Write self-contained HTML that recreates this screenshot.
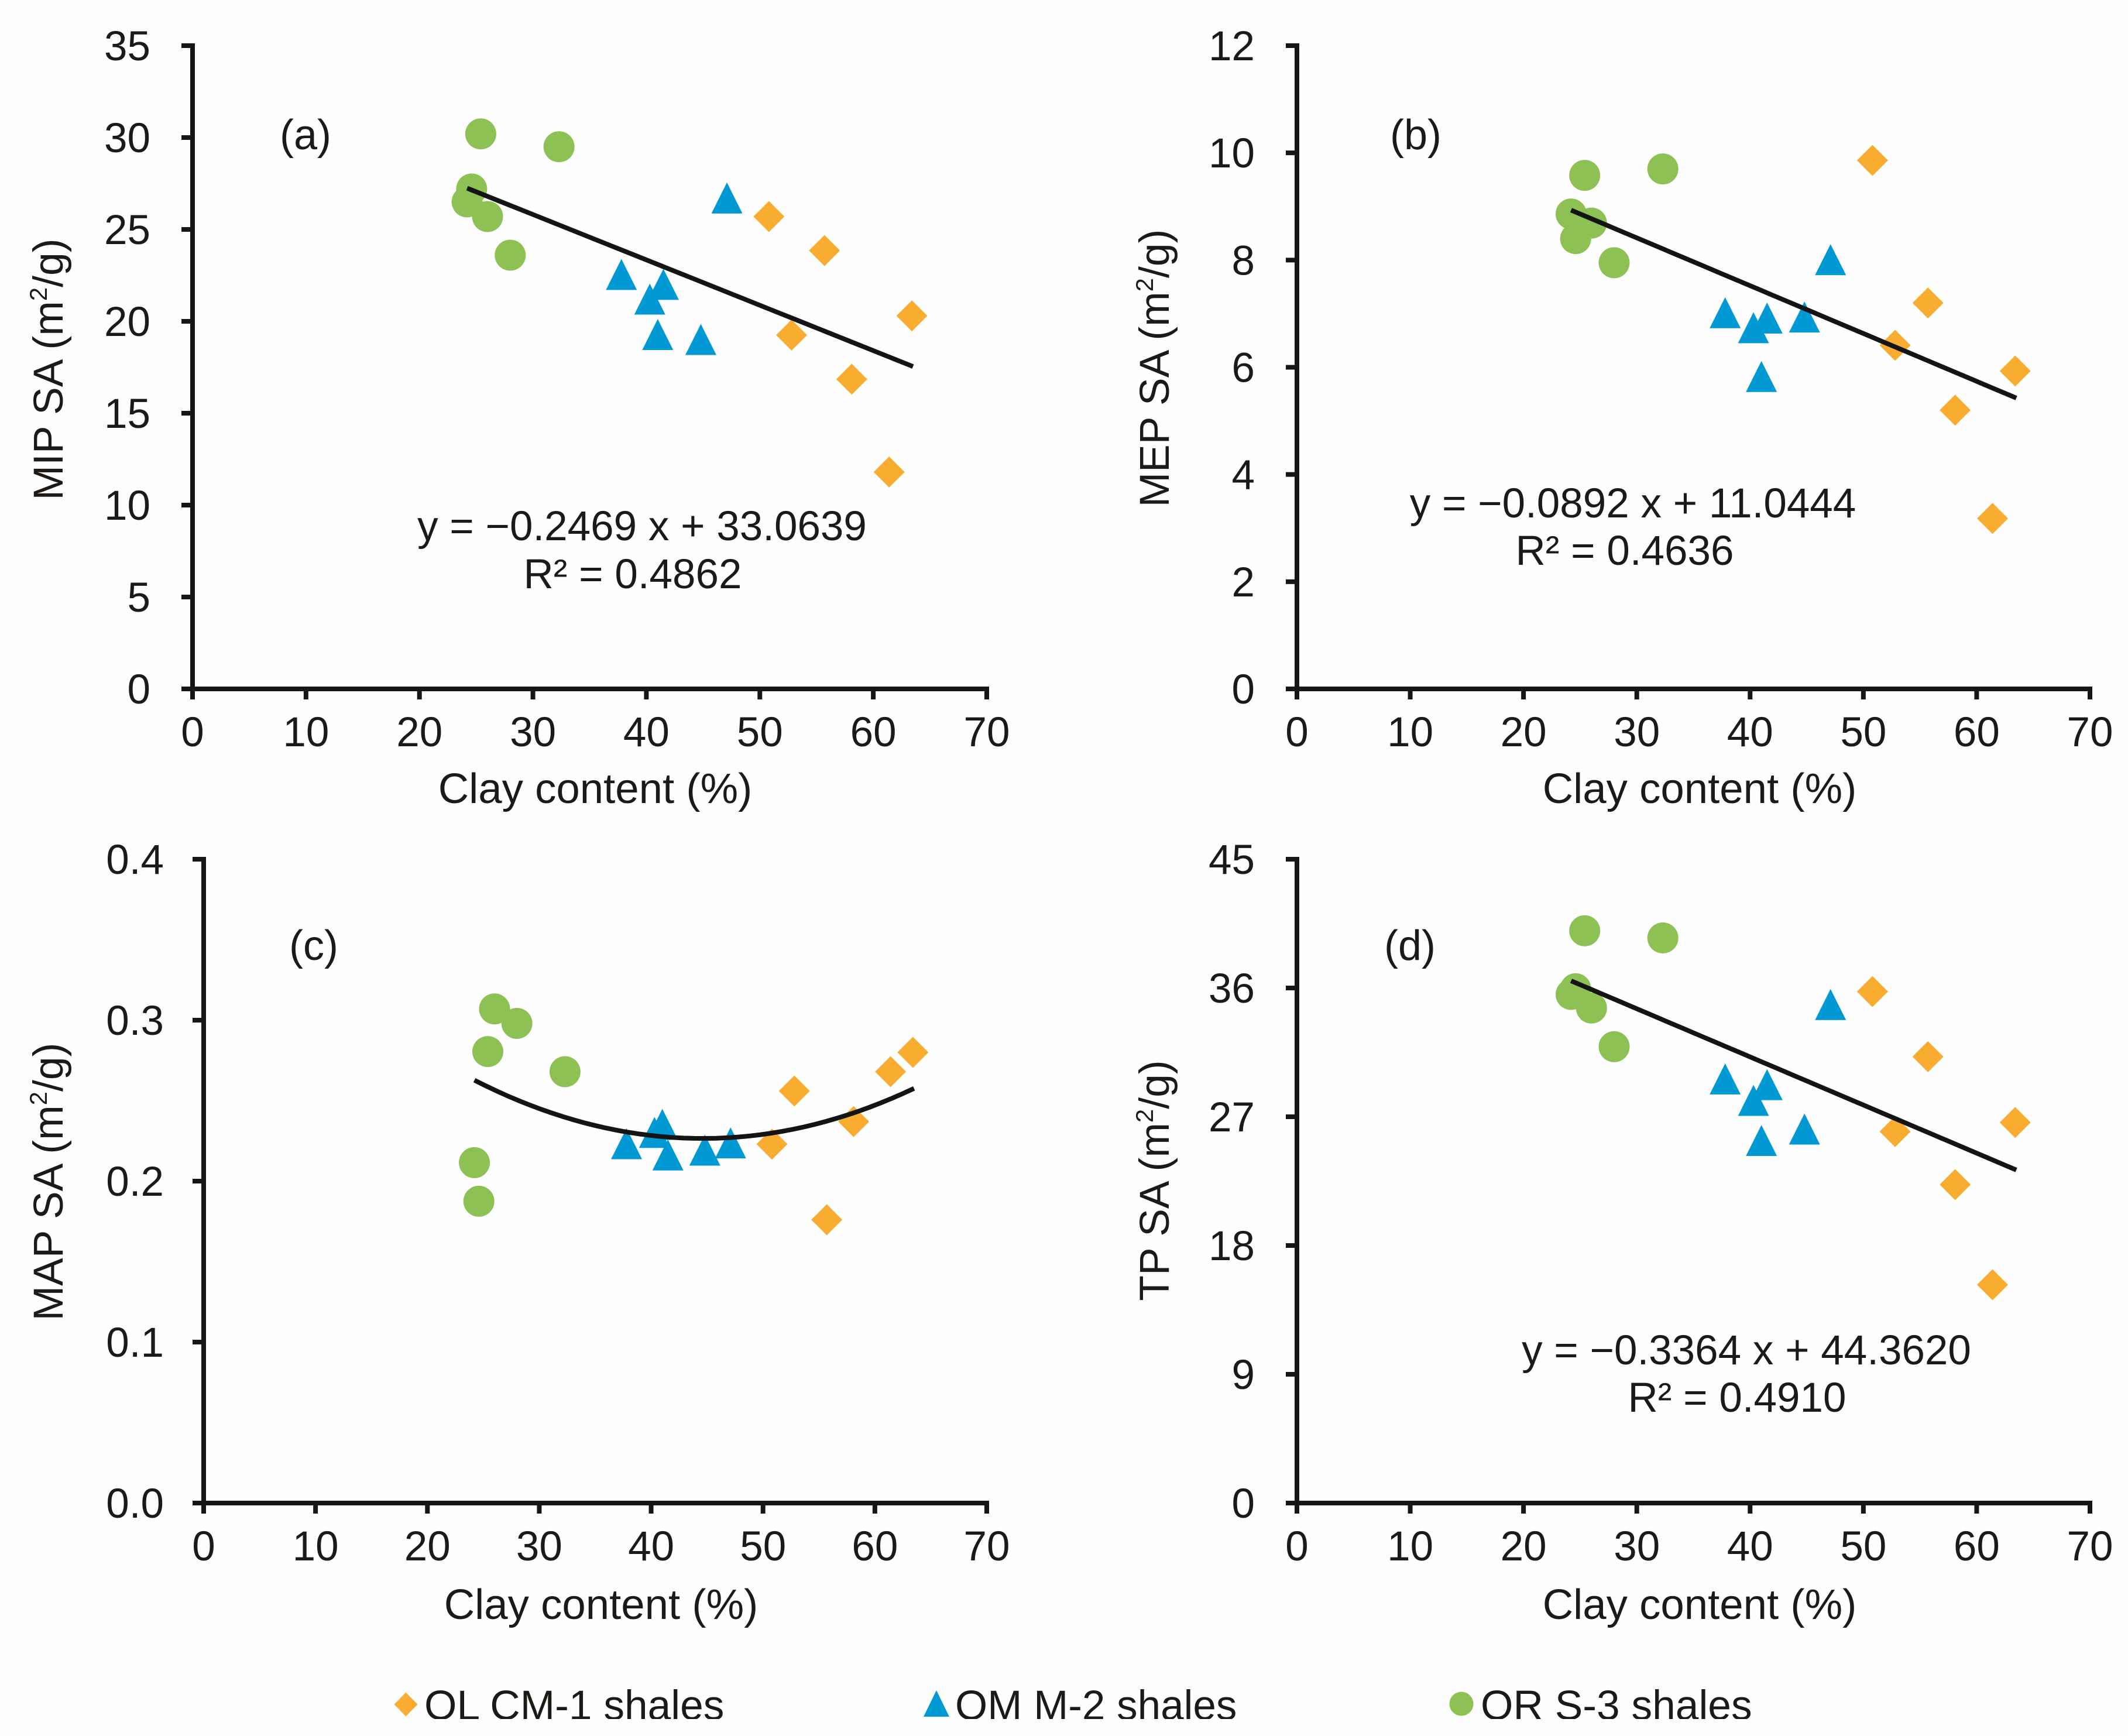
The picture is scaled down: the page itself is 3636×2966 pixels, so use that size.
<!DOCTYPE html>
<html>
<head>
<meta charset="utf-8">
<title>Surface area versus clay content</title>
<style>
html,body{margin:0;padding:0;background:#fefefe;}
svg{display:block;}
text{font-family:"Liberation Sans",Arial,sans-serif;fill:#1c1917;}
</style>
</head>
<body>
<svg id="figure" xmlns="http://www.w3.org/2000/svg" width="3636" height="2966" viewBox="0 0 3636 2966">
<defs><clipPath id="legend-crop"><rect x="0" y="0" width="3636" height="2937"/></clipPath></defs>
<rect width="3636" height="2966" fill="#fefefe"/>
<g id="charts"></g>
<g clip-path="url(#legend-crop)">
  <g>
    <polygon points="693.5,2891.5 713.5,2912 693.5,2932.5 673.5,2912" fill="#f8ac30"/>
    <text x="725" y="2938" font-size="71.3">OL CM-1 shales</text>
  </g>
  <g>
    <polygon points="1600,2888 1622,2933 1578,2933" fill="#0099d4"/>
    <text x="1632" y="2938" font-size="71">OM M-2 shales</text>
  </g>
  <g>
    <circle cx="2497" cy="2911" r="20.5" fill="#8dc153"/>
    <text x="2530" y="2938" font-size="71.3">OR S-3 shales</text>
  </g>
</g>
</svg>
<script>
// Shared clay content (x values, %)
const clayOL = [50.8, 52.8, 55.7, 58.1, 61.4, 63.4];
const clayOM = [37.8, 40.3, 41.0, 41.5, 44.8, 47.1];
const clayOR = [24.2, 24.6, 25.4, 26.0, 28.0, 32.3];
const xTickLabels = ['0', '10', '20', '30', '40', '50', '60', '70'];

// Panel (a) MIP SA
const mipOL = [25.7, 19.25, 23.85, 16.85, 11.8, 20.3];
const mipOM = [22.44, 21.1, 19.17, 21.9, 18.9, 26.6];
const mipOR = [26.5, 27.2, 30.2, 25.7, 23.6, 29.5];
const mipTicks = ['0', '5', '10', '15', '20', '25', '30', '35'];
const mipTrend = [0, -0.2469, 33.22];

// Panel (b) MEP SA
const mepOL = [9.86, 6.41, 7.2, 5.2, 3.18, 5.93];
const mepOM = [6.98, 6.7, 5.79, 6.88, 6.9, 7.97];
const mepOR = [8.86, 8.4, 9.58, 8.69, 7.95, 9.7];
const mepTicks = ['0', '2', '4', '6', '8', '10', '12'];
const mepTrend = [0, -0.0892, 11.09];

// Panel (c) MAP SA
const mapOL = [0.223, 0.256, 0.176, 0.237, 0.268, 0.28];
const mapOM = [0.222, 0.229, 0.234, 0.215, 0.218, 0.2225];
const mapOR = [0.2115, 0.1875, 0.2805, 0.307, 0.298, 0.268];
const mapTicks = ['0.0', '0.1', '0.2', '0.3', '0.4'];
const mapTrend = [0.000087, -0.00776, 0.39956];

// Panel (d) TP SA
const tpOL = [35.75, 25.96, 31.2, 22.26, 15.26, 26.6];
const tpOM = [29.5, 28.0, 25.2, 29.1, 26.0, 34.7];
const tpOR = [35.55, 35.95, 40.0, 34.6, 31.9, 39.5];
const tpTicks = ['0', '9', '18', '27', '36', '45'];
const tpTrend = [0, -0.3364, 44.64];

const trendRange = [24.2, 63.5];
const xMax = 70;

const panels = [
  {id:'a', title:'MIP', ol:mipOL, om:mipOM, or:mipOR, ticks:mipTicks, trend:mipTrend,
   left:329, right:1686, top:78, bottom:1177, gap:72, eq:['y = \u22120.2469 x + 33.0639','R\u00b2 = 0.4862'],
   eqX:[1097,1081], eqY:[923,1005], tagX:522, tagY:255, yTitleX:107, yTitleY:631, xTitleX:1017, xTitleY:1372},
  {id:'b', title:'MEP', ol:mepOL, om:mepOM, or:mepOR, ticks:mepTicks, trend:mepTrend,
   left:2216, right:3571, top:78, bottom:1177, gap:72, eq:['y = \u22120.0892 x + 11.0444','R\u00b2 = 0.4636'],
   eqX:[2790,2776], eqY:[884,965], tagX:2419, tagY:255, yTitleX:1997, yTitleY:629, xTitleX:2904, xTitleY:1372},
  {id:'c', title:'MAP', ol:mapOL, om:mapOM, or:mapOR, ticks:mapTicks, trend:mapTrend,
   left:348, right:1686, top:1468, bottom:2568, gap:68, eq:null,
   tagX:536, tagY:1640, yTitleX:107, yTitleY:2019, xTitleX:1027, xTitleY:2766},
  {id:'d', title:'TP', ol:tpOL, om:tpOM, or:tpOR, ticks:tpTicks, trend:tpTrend,
   left:2216, right:3571, top:1468, bottom:2568, gap:72, eq:['y = \u22120.3364 x + 44.3620','R\u00b2 = 0.4910'],
   eqX:[2984,2968], eqY:[2331,2412], tagX:2409, tagY:1640, yTitleX:1997, yTitleY:2017, xTitleX:2904, xTitleY:2766}
];

const NS = 'http://www.w3.org/2000/svg';
const FONT = 71;
const host = document.getElementById('charts');

function make(parent, tag, attrs, content) {
  const el = document.createElementNS(NS, tag);
  for (const key in attrs) el.setAttribute(key, attrs[key]);
  if (content !== undefined) el.textContent = content;
  parent.appendChild(el);
  return el;
}

function drawPanel(p) {
  const g = make(host, 'g', {});
  
  

  const yMax = parseFloat(p.ticks[p.ticks.length - 1]);
  const sx = v => p.left + (v / xMax) * (p.right - p.left);
  const sy = v => p.bottom - (v / yMax) * (p.bottom - p.top);

  const yAxis = make(g, 'line', {x1:p.left, x2:p.left, y1:p.top - 4, y2:p.bottom + 4, stroke:'#161616', 'stroke-width':8});
  
  
  const xAxis = make(g, 'line', {x1:p.left - 4, x2:p.right + 4, y1:p.bottom, y2:p.bottom, stroke:'#161616', 'stroke-width':8});
  
  

  p.ticks.forEach(label => {
    const v = parseFloat(label);
    const tick = make(g, 'line', {x1:p.left - 19, x2:p.left, y1:sy(v), y2:sy(v), stroke:'#161616', 'stroke-width':8});
    
    
    const txt = make(g, 'text', {x:p.left - p.gap, y:sy(v) + 25, 'font-size':FONT, 'text-anchor':'end'}, label);
    
    
  });
  xTickLabels.forEach(label => {
    const v = parseFloat(label);
    const tick = make(g, 'line', {x1:sx(v), x2:sx(v), y1:p.bottom, y2:p.bottom + 18, stroke:'#161616', 'stroke-width':8});
    
    
    const txt = make(g, 'text', {x:sx(v), y:p.bottom + 98, 'font-size':FONT, 'text-anchor':'middle'}, label);
    
    
  });

  clayOR.forEach((x, i) => {
    const c = make(g, 'circle', {cx:sx(x), cy:sy(p.or[i]), r:26.5, fill:'#8dc153'});
    
    
  });
  clayOM.forEach((x, i) => {
    const cx = sx(x), cy = sy(p.om[i]);
    const t = make(g, 'polygon', {points:`${cx},${cy - 30} ${cx + 26.5},${cy + 23} ${cx - 26.5},${cy + 23}`, fill:'#0099d4'});
    
    
  });
  clayOL.forEach((x, i) => {
    const cx = sx(x), cy = sy(p.ol[i]);
    const d = make(g, 'polygon', {points:`${cx},${cy - 26.5} ${cx + 26.5},${cy} ${cx},${cy + 26.5} ${cx - 26.5},${cy}`, fill:'#f8ac30'});
    
    
  });

  const pts = [];
  for (let s = 0; s <= 40; s++) {
    const x = trendRange[0] + (trendRange[1] - trendRange[0]) * s / 40;
    pts.push(sx(x) + ',' + sy(p.trend[0] * x * x + p.trend[1] * x + p.trend[2]));
  }
  const trend = make(g, 'polyline', {points:pts.join(' '), fill:'none', stroke:'#141414', 'stroke-width':8});
  
  

  const tag = make(g, 'text', {x:p.tagX, y:p.tagY, 'font-size':72, 'text-anchor':'middle'}, '(' + p.id + ')');
  
  

  const xTitle = make(g, 'text', {x:p.xTitleX, y:p.xTitleY, 'font-size':72.6, 'text-anchor':'middle'}, 'Clay content (%)');
  
  

  const yTitle = make(g, 'text', {transform:`translate(${p.yTitleX},${p.yTitleY}) rotate(-90)`, 'font-size':71.5, 'text-anchor':'middle'});
  
  
  make(yTitle, 'tspan', {}, p.title + ' SA (m');
  make(yTitle, 'tspan', {dy:-27, 'font-size':42}, '2');
  make(yTitle, 'tspan', {dy:27}, '/g)');

  if (p.eq) {
    p.eq.forEach((line, i) => {
      const e = make(g, 'text', {x:p.eqX[i], y:p.eqY[i], 'font-size':71, 'text-anchor':'middle'}, line);
      
      
    });
  }
}

panels.forEach(drawPanel);
</script>
</body>
</html>
